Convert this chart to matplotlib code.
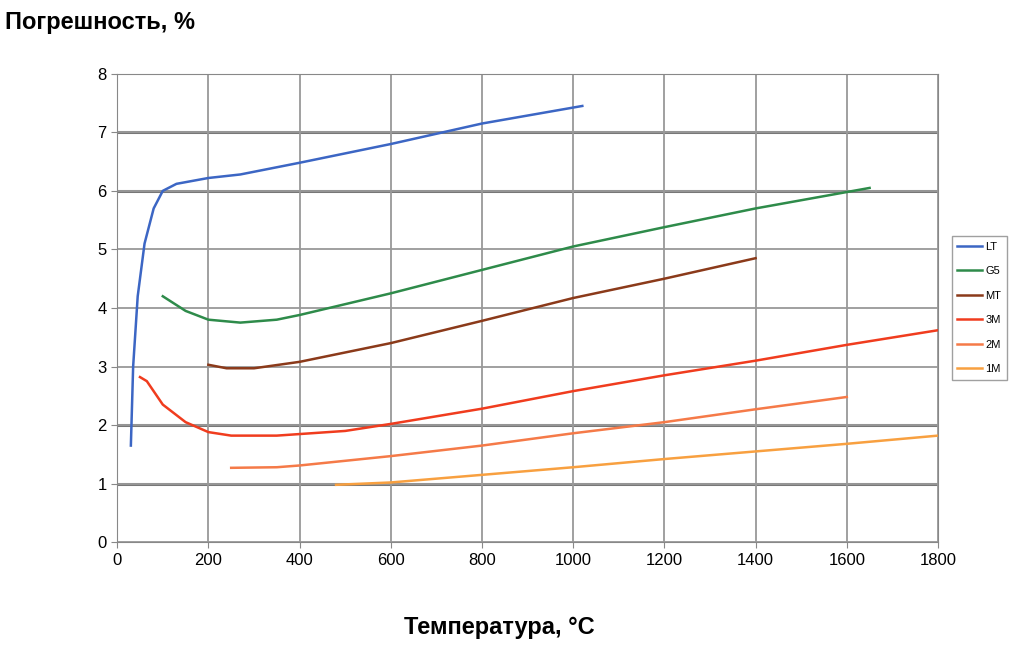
import matplotlib
matplotlib.use("Agg")
import matplotlib.pyplot as plt
from matplotlib.lines import Line2D

lt_x = [30, 35, 45, 60, 80, 100, 130, 200, 270, 400, 600, 800, 1020]
lt_y = [1.65, 3.0, 4.2, 5.1, 5.7, 6.0, 6.12, 6.22, 6.28, 6.48, 6.8, 7.15, 7.45]
g5_x = [100, 150, 200, 270, 350, 400, 600, 800, 1000, 1200, 1400, 1650]
g5_y = [4.2, 3.95, 3.8, 3.75, 3.8, 3.88, 4.25, 4.65, 5.05, 5.38, 5.7, 6.05]
mt_x = [200, 240, 300, 400, 600, 800, 1000, 1200, 1400]
mt_y = [3.03, 2.97, 2.97, 3.08, 3.4, 3.78, 4.17, 4.5, 4.85]
m3_x = [50, 65, 100, 150, 200, 250, 350, 500, 600, 800, 1000, 1200, 1400, 1600, 1800]
m3_y = [2.82, 2.75, 2.35, 2.05, 1.88, 1.82, 1.82, 1.9, 2.02, 2.28, 2.58, 2.85, 3.1, 3.37, 3.62]
m2_x = [250, 350, 400, 600, 800, 1000, 1200, 1400, 1600]
m2_y = [1.27, 1.28, 1.31, 1.47, 1.65, 1.86, 2.05, 2.27, 2.48]
m1_x = [480, 600, 800, 1000, 1200, 1400, 1600, 1800]
m1_y = [0.98, 1.02, 1.15, 1.28, 1.42, 1.55, 1.68, 1.82]

series = [("LT", lt_x, lt_y, "#3c66c4"), ("G5", g5_x, g5_y, "#2e8b4a"),
          ("MT", mt_x, mt_y, "#8b3a1a"), ("3M", m3_x, m3_y, "#f03c1e"),
          ("2M", m2_x, m2_y, "#f57a48"), ("1M", m1_x, m1_y, "#f8a040")]

plt.rcParams['font.family'] = ['Liberation Sans', 'DejaVu Sans']
fig = plt.figure(figsize=(10.19, 6.47), dpi=100)
ax = fig.add_axes([0.115, 0.162, 0.8055, 0.724])
for name, x, y, c in series:
    ax.plot(x, y, color=c, lw=1.8, label=name)
ax.set_xlim(0, 1800)
ax.set_ylim(0, 8)
ax.set_xticks(range(0, 1801, 200))
ax.set_yticks(range(0, 9))
ax.grid(True, color="#999999", lw=1.3)
for v in [1, 2, 6, 7]:
    ax.axhline(v, color="#777777", lw=2.2, zorder=0.5)
ax.set_axisbelow(True)
for s in ax.spines.values():
    s.set_color("#888888")
ax.tick_params(labelsize=12, length=4, color="#888888")
fig.text(0.005, 0.965, "Погрешность, %", fontsize=17, fontweight="bold", va="center")
fig.text(0.49, 0.03, "Температура, °C", fontsize=17, fontweight="bold", ha="center", va="center")
ax.legend(loc="center left", bbox_to_anchor=(1.01, 0.5), fontsize=8, frameon=True,
          fancybox=False, edgecolor="#888888", handlelength=2.2, labelspacing=1.3,
          borderpad=0.5, handletextpad=0.3)
fig.savefig("out.png", dpi=100)
